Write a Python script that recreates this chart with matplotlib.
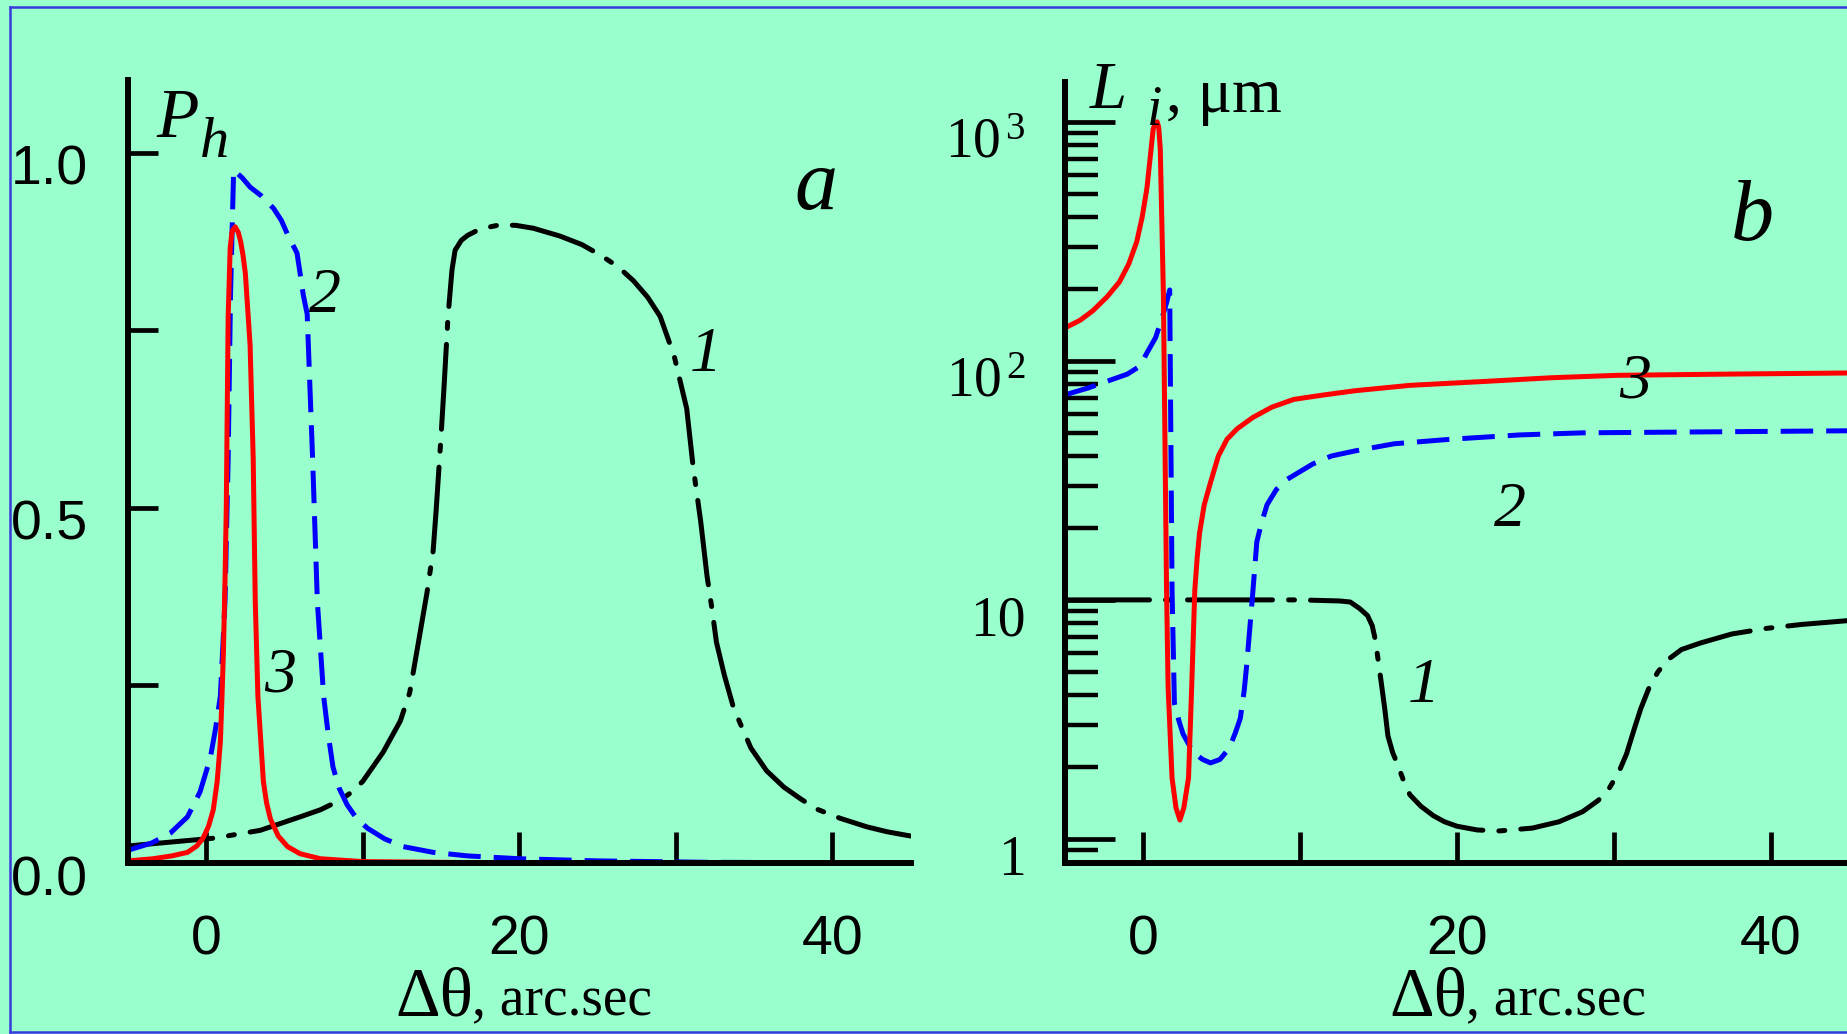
import matplotlib
matplotlib.use('Agg')
import matplotlib.pyplot as plt
from matplotlib.lines import Line2D
from matplotlib.ticker import FixedLocator, NullFormatter
from matplotlib.transforms import ScaledTranslation

# ---------------- data ----------------
# panel a : P_h versus delta theta (arc sec)
a1_x = [-5, -2, 0.5, 3.45, 6.0, 7.3, 8.6, 9.3, 10, 11.3, 12.4, 13.0, 13.56, 14.1, 14.5, 14.7, 15.0,
        15.2, 15.45, 15.7, 15.9, 16.3, 16.7, 17.5, 18.8, 19.8, 20.9, 22.6, 24.0, 25.2, 26.3, 27.3,
        28.2, 29.0, 29.9, 30.7, 31.1, 31.6, 32.0, 32.3, 32.6, 33.1, 33.7, 34.8, 35.8, 36.9, 38.0,
        39.0, 40.5, 42.2, 43.5, 45]
a1_y = [0.024, 0.030, 0.035, 0.046, 0.065, 0.075, 0.089, 0.10, 0.115, 0.156, 0.20, 0.24, 0.311,
        0.38, 0.44, 0.50, 0.60, 0.673, 0.77, 0.835, 0.863, 0.877, 0.884, 0.893, 0.899, 0.898, 0.894,
        0.883, 0.871, 0.856, 0.84, 0.82, 0.797, 0.77, 0.714, 0.64, 0.56, 0.48, 0.404, 0.36, 0.311,
        0.265, 0.218, 0.162, 0.13, 0.107, 0.09, 0.076, 0.063, 0.051, 0.044, 0.038]

a2_x = [-5, -3.5, -2.3, -1.2, -0.4, 0.26, 0.6, 0.9, 1.05, 1.2, 1.4, 1.55, 1.75, 2.3, 2.8, 3.5, 4.3,
        4.8, 5.2, 5.5, 5.8, 6.0, 6.2, 6.45, 6.8, 7.1, 7.5, 7.8, 8.1, 8.5, 9.0, 9.6, 10.3, 11.4, 12.6,
        14.5, 16.7, 20, 25, 32, 45]
a2_y = [0.018, 0.028, 0.042, 0.065, 0.10, 0.148, 0.19, 0.235, 0.30, 0.37, 0.57, 0.80, 0.976, 0.965,
        0.952, 0.94, 0.922, 0.905, 0.885, 0.872, 0.859, 0.83, 0.80, 0.773, 0.567, 0.368, 0.235, 0.18,
        0.135, 0.105, 0.082, 0.063, 0.049, 0.034, 0.023, 0.015, 0.010, 0.006, 0.003, 0.001, 0.0]

a3_x = [-5, -3.4, -2.2, -1.2, -0.6, -0.2, 0.15, 0.45, 0.7, 0.9, 1.0, 1.1, 1.2, 1.28, 1.4, 1.53, 1.65,
        1.85, 2.05, 2.2, 2.35, 2.5, 2.8, 3.0, 3.13, 3.3, 3.65, 3.85, 4.1, 4.6, 5.2, 6.0, 7.3, 10,
        20, 45]
a3_y = [0.003, 0.006, 0.010, 0.015, 0.024, 0.035, 0.052, 0.075, 0.115, 0.17, 0.23, 0.30, 0.40, 0.50,
        0.77, 0.866, 0.89, 0.896, 0.888, 0.875, 0.856, 0.83, 0.73, 0.57, 0.37, 0.235, 0.115, 0.085,
        0.062, 0.038, 0.023, 0.013, 0.006, 0.002, 0.0, 0.0]

# panel b : L_i (um) versus delta theta (arc sec), log scale
b1_x = [-5, 0, 5, 10, 12.5, 13.2, 13.8, 14.3, 14.6, 14.8, 15.1, 15.4, 15.6, 15.9, 16.2, 16.6, 17.0,
        17.7, 18.5, 19.2, 20.0, 21.3, 22.7, 24.8, 26.5, 28.0, 29.0, 29.7, 30.3, 30.8, 31.3, 31.7,
        32.3, 32.8, 33.4, 34.3, 35.5, 37.5, 39.7, 42, 45]
b1_y = [10.0, 10.0, 10.0, 10.0, 9.9, 9.8, 9.2, 8.6, 7.8, 6.8, 4.9, 3.5, 2.7, 2.3, 2.06, 1.75, 1.53,
        1.37, 1.25, 1.18, 1.13, 1.09, 1.08, 1.11, 1.18, 1.30, 1.45, 1.63, 1.9, 2.27, 2.9, 3.5, 4.4,
        5.0, 5.6, 6.2, 6.6, 7.2, 7.6, 7.9, 8.2]

b2_x = [-5, -3.5, -2.1, -1, -0.2, 0.25, 0.8, 1.2, 1.5, 1.7, 1.85, 2.0, 2.3, 2.55, 3.2, 3.8, 4.3, 4.9,
        5.5, 5.9, 6.2, 6.45, 6.6, 6.95, 7.25, 7.55, 7.9, 8.5, 9.2, 10.8, 12, 13.5, 16, 19.6, 24, 28,
        36.6, 45]
b2_y = [72, 77, 83, 88, 95, 108, 125, 150, 175, 198, 11, 3.7, 3.1, 2.75, 2.3, 2.15, 2.08, 2.15, 2.4,
        2.8, 3.2, 4.2, 5.3, 9.9, 17.5, 21, 25, 29, 32, 37, 40, 42, 45, 47, 49, 50, 50.5, 51]

b3_x = [-5.0, -4, -3.2, -2.3, -1.5, -0.9, -0.4, -0.05, 0.25, 0.45, 0.65, 0.8, 0.9, 1.0, 1.1, 1.3, 1.4,
        1.5, 1.6, 1.85, 2.1, 2.35, 2.6, 2.9, 3.1, 3.3, 3.45, 3.6, 3.9, 4.3, 4.8, 5.35, 6.0, 7.0, 8.2,
        9.6, 11.5, 13.5, 17, 21.7, 26, 30.2, 37, 45]
b3_y = [137, 148, 162, 185, 214, 255, 315, 400, 528, 700, 935, 990, 1000, 950, 770, 188, 45, 11, 4.3,
        1.8, 1.35, 1.2, 1.35, 1.8, 4.3, 11, 15, 19, 25, 31, 40, 47, 52, 58, 64, 69, 72, 75, 79, 82,
        85, 87, 88, 89]

x_ticks = [0, 10, 20, 30, 40]
x_ticklabels = ['0', '', '20', '', '40']
a_yticks = [0.25, 0.5, 0.75, 1.0]
a_ylabel_vals = [0.0, 0.5, 1.0]
a_ylabels = ['0.0', '0.5', '1.0']
b_major = [1, 10, 100, 1000]
b_minor = [0.9, 2, 3, 4, 5, 6, 7, 8, 9, 20, 30, 40, 50, 60, 70, 80, 90,
           200, 300, 400, 500, 600, 700, 800, 900]
b_ylabels = ['1', '10', r'$10^{\,2}$', r'$10^{\,3}$']

# ---------------- style ----------------
W, H, DPI = 1847, 1034, 100
BG = '#99FFCC'
BORDER = '#3a3adc'
SERIF = ['Liberation Serif', 'DejaVu Serif']
SANS = ['Liberation Sans Narrow', 'Liberation Sans', 'DejaVu Sans']
plt.rcParams['mathtext.fontset'] = 'custom'
plt.rcParams['mathtext.rm'] = 'Liberation Serif'
plt.rcParams['mathtext.it'] = 'Liberation Serif:italic'

fig = plt.figure(figsize=(W / DPI, H / DPI), dpi=DPI, facecolor=BG)


def fx(px):
    return px / W


def fy(py):
    return 1 - py / H


axA = fig.add_axes([fx(128), fy(863), 782.5 / W, 783 / H])
axB = fig.add_axes([fx(1064.5), fy(863), 785 / W, 781 / H])

for ax in (axA, axB):
    ax.set_facecolor('none')
    for s in ('top', 'right'):
        ax.spines[s].set_visible(False)
    for s in ('left', 'bottom'):
        ax.spines[s].set_linewidth(4.3)
    ax.set_xlim(-5, 45)
    ax.set_xticks(x_ticks)
    ax.set_xticklabels(x_ticklabels, fontsize=40, fontfamily=SANS)
    ax.tick_params(axis='x', direction='in', length=22.5, width=3.4, pad=37)

LW = 3.6
blue_ls = (0, (6.5, 2.6))
black_ls = (0, (17, 3.2, 1.2, 3.2))

# panel a
axA.set_ylim(0, 1.1028)
axA.set_yticks(a_yticks)
axA.tick_params(axis='y', direction='in', length=21.6, width=3.4, labelleft=False)
axA.plot(a1_x, a1_y, color='black', lw=LW, ls=black_ls, dash_capstyle='round')
axA.plot(a2_x, a2_y, color='#0000FF', lw=LW, ls=blue_ls)
axA.plot(a3_x, a3_y, color='#FF0000', lw=LW, solid_capstyle='round', solid_joinstyle='round')

transA = axA.get_yaxis_transform() + ScaledTranslation(0, -32 / DPI, fig.dpi_scale_trans)
for v, lab in zip(a_ylabel_vals, a_ylabels):
    axA.text((88 - 128) / 782.5, v, lab, transform=transA, ha='right', va='baseline',
             fontsize=40, family=SANS, clip_on=False)

# panel b
axB.set_yscale('log')
axB.set_ylim(0.793, 1468)
axB.yaxis.set_major_locator(FixedLocator(b_major))
axB.yaxis.set_minor_locator(FixedLocator(b_minor))
axB.yaxis.set_major_formatter(NullFormatter())
axB.yaxis.set_minor_formatter(NullFormatter())
axB.tick_params(axis='y', which='major', direction='in', length=36, width=3.4, labelleft=False)
axB.tick_params(axis='y', which='minor', direction='in', length=24, width=3.2, labelleft=False)
axB.plot(b1_x, b1_y, color='black', lw=LW, ls=black_ls, dash_capstyle='round')
axB.plot(b2_x, b2_y, color='#0000FF', lw=LW, ls=blue_ls)
axB.plot(b3_x, b3_y, color='#FF0000', lw=LW, solid_capstyle='round', solid_joinstyle='round')

transB = axB.get_yaxis_transform() + ScaledTranslation(0, -36 / DPI, fig.dpi_scale_trans)
for v, lab in zip(b_major, b_ylabels):
    axB.text((1026 - 1064.5) / 785, v, lab, transform=transB, ha='right', va='baseline',
             fontsize=40, family=SERIF, clip_on=False)

# ---------------- texts ----------------
def ftxt(px, py, s, size, italic=True, ha='center', family=SERIF):
    fig.text(fx(px), fy(py), s, fontsize=size, style='italic' if italic else 'normal',
             family=family, ha=ha, va='baseline')

# axis titles
ftxt(178, 137, 'P', 50)
ftxt(215, 157, 'h', 42)
ftxt(1108, 108, 'L', 48)
ftxt(1155, 125, 'i', 40)
ftxt(1166, 112, ', μm', 46, italic=False, ha='left')

# panel letters
ftxt(816, 209, 'a', 62)
ftxt(1752, 240, 'b', 62)

# curve numbers
ftxt(325, 312, '2', 46)
ftxt(706, 371, '1', 46)
ftxt(280, 692, '3', 46)
ftxt(1635, 398, '3', 46)
ftxt(1510, 526, '2', 46)
ftxt(1424, 702, '1', 46)

# x axis labels
for x0 in (395, 1389):
    ftxt(x0, 1015, 'Δθ', 50, italic=False, ha='left')
    ftxt(x0 + 77, 1015, ', arc.sec', 40, italic=False, ha='left')

# frame border
fig.add_artist(Line2D([fx(10), fx(10)], [fy(7), fy(1032)], color=BORDER, lw=1.8))
fig.add_artist(Line2D([fx(10), 1], [fy(7), fy(7)], color=BORDER, lw=1.8))
fig.add_artist(Line2D([fx(10), 1], [fy(1032), fy(1032)], color=BORDER, lw=1.8))

fig.savefig('out.png', dpi=DPI, facecolor=BG)
